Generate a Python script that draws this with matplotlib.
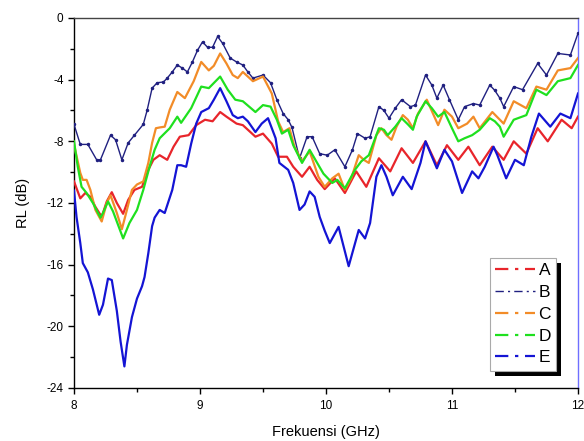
import matplotlib
matplotlib.use("Agg")
import matplotlib.pyplot as plt
from matplotlib.lines import Line2D
from matplotlib.patches import Rectangle
from matplotlib.ticker import MultipleLocator

plt.rcParams['font.family'] = ['Liberation Sans', 'DejaVu Sans']

labels = ["A", "B", "C", "D", "E"]
colors = ["#e8252b", "#202080", "#f28c28", "#1fe01f", "#1414d4"]

freq_A = [8.00, 8.05, 8.09, 8.13, 8.17, 8.22, 8.26, 8.30, 8.34, 8.39, 8.43, 8.48, 8.54, 8.59, 8.63, 8.68,
          8.74, 8.79, 8.84, 8.91, 8.97, 9.04, 9.10, 9.16, 9.21, 9.29, 9.34, 9.44, 9.50, 9.57, 9.62, 9.69,
          9.74, 9.81, 9.87, 9.93, 9.99, 10.07, 10.15, 10.24, 10.32, 10.42, 10.51, 10.60, 10.69, 10.79,
          10.88, 10.96, 11.05, 11.13, 11.22, 11.32, 11.41, 11.49, 11.59, 11.68, 11.76, 11.87, 11.95, 12.00]
rl_A = [-10.6, -11.7, -11.35, -11.6, -12.25, -12.9, -11.9, -11.3, -12.0, -12.7, -11.8, -11.15, -10.95, -9.85, -9.2, -8.9,
        -9.2, -8.35, -7.7, -7.6, -6.95, -6.6, -6.7, -6.1, -6.4, -6.85, -6.95, -7.7, -7.5, -8.15, -9.0, -9.0,
        -9.65, -10.3, -9.65, -10.5, -11.1, -10.4, -11.35, -9.95, -10.95, -9.1, -9.95, -8.45, -9.4, -8.0,
        -9.55, -8.25, -9.2, -8.35, -9.55, -8.35, -9.2, -8.0, -8.8, -7.15, -8.0, -6.6, -7.15, -6.4]

freq_B = [8.00, 8.05, 8.11, 8.18, 8.21, 8.29, 8.33, 8.38, 8.43, 8.48, 8.55, 8.58, 8.62, 8.66, 8.71, 8.74,
          8.78, 8.82, 8.86, 8.90, 8.94, 8.98, 9.02, 9.06, 9.10, 9.14, 9.18, 9.24, 9.29, 9.34, 9.38, 9.42,
          9.50, 9.56, 9.61, 9.66, 9.70, 9.73, 9.79, 9.85, 9.89, 9.95, 10.01, 10.07, 10.15, 10.21, 10.25,
          10.31, 10.35, 10.42, 10.46, 10.50, 10.55, 10.60, 10.67, 10.71, 10.79, 10.84, 10.88, 10.93, 10.98,
          11.05, 11.10, 11.17, 11.22, 11.30, 11.34, 11.38, 11.41, 11.49, 11.56, 11.68, 11.75, 11.84, 11.94, 12.00]
rl_B = [-6.9, -8.2, -8.2, -9.2, -9.2, -7.6, -7.9, -9.2, -8.1, -7.6, -6.9, -6.0, -4.55, -4.2, -4.15, -3.9,
        -3.5, -3.05, -3.25, -3.5, -2.85, -2.1, -1.55, -1.9, -1.9, -1.2, -1.65, -2.6, -2.85, -3.05, -3.5, -3.9,
        -3.7, -4.2, -5.3, -6.2, -6.6, -7.1, -9.1, -7.7, -7.7, -8.8, -8.9, -8.55, -9.65, -8.55, -7.5,
        -7.8, -7.7, -5.75, -6.0, -6.5, -5.85, -5.3, -5.75, -5.65, -3.7, -4.35, -5.2, -4.35, -5.3,
        -6.6, -5.75, -5.55, -5.65, -4.35, -4.7, -5.2, -5.75, -4.45, -4.65, -2.95, -3.7, -2.3, -2.4, -1.0]

freq_C = [8.00, 8.05, 8.07, 8.10, 8.13, 8.17, 8.22, 8.26, 8.29, 8.34, 8.38, 8.42, 8.46, 8.50, 8.55, 8.59,
          8.62, 8.65, 8.68, 8.72, 8.76, 8.82, 8.88, 8.95, 9.01, 9.07, 9.11, 9.16, 9.21, 9.26, 9.30, 9.34,
          9.42, 9.50, 9.57, 9.62, 9.66, 9.71, 9.75, 9.81, 9.87, 9.94, 9.99, 10.05, 10.10, 10.15, 10.20,
          10.26, 10.30, 10.34, 10.40, 10.44, 10.48, 10.52, 10.56, 10.61, 10.65, 10.69, 10.73, 10.80, 10.89,
          10.94, 11.00, 11.05, 11.12, 11.17, 11.22, 11.32, 11.41, 11.49, 11.59, 11.67, 11.75, 11.84, 11.94, 12.00]
rl_C = [-8.2, -10.05, -10.5, -10.5, -11.15, -12.45, -13.2, -12.0, -11.5, -12.65, -13.7, -12.45, -11.15, -10.8, -10.6, -9.4,
        -8.1, -7.15, -7.1, -7.05, -5.95, -4.8, -5.2, -4.1, -2.85, -3.4, -3.1, -2.3, -2.95, -3.7, -3.9, -3.5,
        -4.1, -3.8, -4.9, -6.7, -7.4, -7.15, -8.35, -9.3, -8.65, -10.3, -10.95, -10.4, -10.1, -11.15, -10.4,
        -8.9, -9.2, -9.4, -7.6, -7.15, -7.6, -7.9, -7.05, -6.3, -6.6, -7.15, -6.2, -5.3, -6.95,
        -5.95, -6.4, -7.15, -6.85, -6.4, -7.15, -6.1, -6.85, -5.4, -5.85, -4.45, -4.65, -3.4, -3.25, -2.6]

freq_D = [8.00, 8.03, 8.06, 8.10, 8.15, 8.21, 8.23, 8.27, 8.31, 8.39, 8.44, 8.50, 8.55, 8.60, 8.64, 8.68,
          8.76, 8.82, 8.85, 8.93, 9.01, 9.07, 9.16, 9.22, 9.28, 9.34, 9.44, 9.50, 9.56, 9.61, 9.65, 9.70,
          9.74, 9.81, 9.87, 9.93, 9.98, 10.05, 10.09, 10.15, 10.23, 10.28, 10.34, 10.42, 10.46, 10.49,
          10.55, 10.60, 10.65, 10.69, 10.72, 10.79, 10.84, 10.89, 10.94, 11.00, 11.05, 11.10, 11.16, 11.22,
          11.30, 11.34, 11.38, 11.41, 11.49, 11.59, 11.67, 11.75, 11.84, 11.94, 12.00]
rl_D = [-8.0, -9.65, -10.95, -11.35, -12.0, -12.95, -12.65, -11.9, -12.55, -14.3, -13.3, -12.45, -11.15, -9.65, -8.55, -7.8,
        -7.15, -6.4, -6.8, -5.85, -4.45, -4.55, -3.8, -4.65, -5.3, -5.4, -6.1, -5.65, -5.75, -6.6, -7.5, -7.25,
        -8.25, -9.4, -8.55, -9.4, -10.1, -10.7, -10.5, -11.05, -9.85, -9.3, -8.9, -7.15, -7.25, -7.6,
        -7.05, -6.5, -6.9, -7.25, -6.4, -5.4, -5.85, -6.4, -6.1, -7.15, -8.0, -7.8, -7.6, -7.25,
        -6.5, -6.7, -7.05, -7.7, -6.6, -6.3, -4.65, -5.0, -4.1, -3.9, -3.05]

freq_E = [8.00, 8.02, 8.05, 8.07, 8.11, 8.15, 8.20, 8.23, 8.27, 8.30, 8.34, 8.37, 8.40, 8.42, 8.46, 8.50,
          8.54, 8.56, 8.59, 8.62, 8.64, 8.68, 8.72, 8.78, 8.82, 8.85, 8.89, 8.93, 8.97, 9.01, 9.07, 9.11,
          9.16, 9.21, 9.26, 9.30, 9.34, 9.38, 9.44, 9.49, 9.54, 9.60, 9.63, 9.70, 9.74, 9.79, 9.83, 9.87,
          9.91, 9.95, 9.99, 10.03, 10.10, 10.18, 10.26, 10.31, 10.35, 10.40, 10.44, 10.48, 10.53, 10.61,
          10.68, 10.75, 10.79, 10.88, 10.94, 11.00, 11.08, 11.16, 11.21, 11.26, 11.33, 11.36, 11.43, 11.50,
          11.57, 11.63, 11.69, 11.78, 11.86, 11.94, 12.00]
rl_E = [-11.2, -12.9, -14.6, -15.9, -16.5, -17.6, -19.25, -18.6, -16.9, -17.0, -19.0, -21.0, -22.6, -21.2, -19.4, -18.2,
        -17.4, -16.8, -15.25, -13.5, -12.95, -12.45, -12.65, -11.15, -9.55, -9.55, -9.65, -8.15, -6.85, -6.1, -5.85, -5.3,
        -4.55, -5.4, -6.3, -6.5, -6.4, -6.7, -7.4, -6.85, -6.5, -7.8, -9.4, -9.85, -10.7, -12.45, -12.1, -11.25,
        -11.6, -12.9, -13.8, -14.6, -13.55, -16.1, -13.75, -14.3, -13.3, -10.3, -9.55, -10.3, -11.5, -10.3,
        -11.1, -9.4, -8.0, -9.75, -8.55, -9.3, -11.35, -9.95, -10.4, -9.65, -8.35, -8.9, -10.4, -9.2,
        -9.55, -7.7, -6.2, -7.05, -6.2, -6.5, -4.9]

x_ticks = [8, 9, 10, 11, 12]
y_ticks = [-24, -20, -16, -12, -8, -4, 0]

fig = plt.figure(figsize=(5.84, 4.41), dpi=100)
ax = fig.add_axes([0.1267, 0.1202, 0.8630, 0.8390])

series = [(freq_A, rl_A), (freq_B, rl_B), (freq_C, rl_C), (freq_D, rl_D), (freq_E, rl_E)]
for i, (fx, fy) in enumerate(series):
    if labels[i] == "B":
        ax.plot(fx, fy, color=colors[i], lw=1.0, marker='o', ms=1.5, zorder=3)
    else:
        ax.plot(fx, fy, color=colors[i], lw=1.6, zorder=3)

ax.set_xlim(8, 12)
ax.set_ylim(-24, 0)
ax.set_xticks(x_ticks)
ax.set_xticklabels([str(t) for t in x_ticks])
ax.set_yticks(y_ticks)
ax.set_yticklabels([str(t) for t in y_ticks])
ax.xaxis.set_minor_locator(MultipleLocator(0.5))
ax.yaxis.set_minor_locator(MultipleLocator(2))
ax.tick_params(which='major', direction='out', length=4, width=1, labelsize=8.5, top=False, right=False)
ax.tick_params(axis='x', which='major', pad=5)
ax.tick_params(which='minor', direction='out', length=3, width=1, top=False, right=False)
ax.spines['left'].set_color('black')
ax.spines['bottom'].set_color('black')
ax.spines['top'].set_color('#444444')
ax.spines['right'].set_color('#6f6fff')
for s in ax.spines.values():
    s.set_linewidth(1.0)

ax.set_xlabel("Frekuensi (GHz)", fontsize=10.5, labelpad=9)
ax.set_ylabel("RL (dB)", fontsize=10.5, labelpad=12)

handles = []
for i, lab in enumerate(labels):
    lw = 1.0 if lab == "B" else 1.6
    handles.append(Line2D([0], [0], color=colors[i], lw=lw, linestyle=(0, (6, 3, 1.5, 3))))
leg = ax.legend(handles, labels, loc='lower right', bbox_to_anchor=(0.957, 0.047),
                fontsize=12.5, handlelength=2.3, handletextpad=0.2, labelspacing=0.38,
                borderpad=0.3, borderaxespad=0.0, frameon=True, fancybox=False,
                edgecolor='#aaaaaa', framealpha=1.0)
leg.get_frame().set_linewidth(0.8)
leg.set_zorder(6)

fig.canvas.draw()
bb = leg.get_window_extent()
inv = fig.transFigure.inverted()
(x0, y0), (x1, y1) = inv.transform([(bb.x0 + 5, bb.y0 - 5), (bb.x1 + 5, bb.y1 - 5)])
shadow = Rectangle((x0, y0), x1 - x0, y1 - y0, transform=fig.transFigure,
                   facecolor='black', edgecolor='none', zorder=5)
ax.add_patch(shadow)
shadow.set_clip_on(False)

fig.savefig("out.png", dpi=100)
